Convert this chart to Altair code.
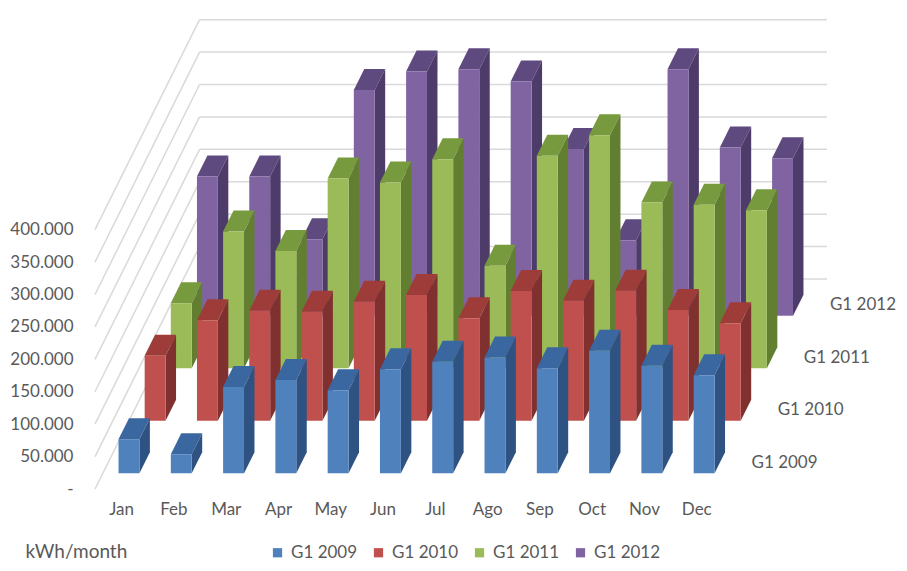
import altair as alt
import pandas as pd

# ---------------- data ----------------
months = ["Jan", "Feb", "Mar", "Apr", "May", "Jun", "Jul", "Ago", "Sep", "Oct", "Nov", "Dec"]
series = ["G1 2009", "G1 2010", "G1 2011", "G1 2012"]
g1_2009 = [52500, 29300, 133000, 144000, 128000, 160500, 172000, 178500, 162000, 189000, 166000, 151000]
g1_2010 = [100300, 155000, 169700, 168000, 183600, 194000, 158000, 200000, 185000, 200500, 171000, 150500]
g1_2011 = [100300, 211000, 181000, 292700, 286500, 322500, 158000, 327600, 359500, 255700, 252000, 243800]
g1_2012 = [214800, 214800, 118000, 348000, 376800, 380300, 361400, 257000, 116500, 380300, 259500, 243000]
y_ticks = [0, 50000, 100000, 150000, 200000, 250000, 300000, 350000, 400000]
values = [g1_2009, g1_2010, g1_2011, g1_2012]

# ---------------- style / geometry constants ----------------
front_colors = ["#4F81BD", "#C0504D", "#9BBB59", "#8064A2"]
top_colors = ["#3B67A0", "#9E3C39", "#789A3E", "#5F4A80"]
side_colors = ["#2E5282", "#80302E", "#627E31", "#4D3C69"]
TEXT = "#595959"
GRID = "#D9D9D9"
FONT = "Lato"

ROW_DX = 0.5      # oblique depth shift per series row, in month slots
ROW_DY = 81000    # oblique depth shift per series row, in kWh units
BAR_W = 0.4
D0, D1 = 0.3, 0.7
N = len(months)
NR = len(series)
X_MAX = N + NR * ROW_DX
Y_MAX = 725000

# ---------------- derived tables ----------------
front_rows, top_rows, side_rows = [], [], []
for r, (s, vals) in enumerate(zip(series, values)):
    for i, (m, v) in enumerate(zip(months, vals)):
        x0 = i + (1 - BAR_W) / 2 + (r + D0) * ROW_DX
        x1 = x0 + BAR_W
        y0 = (r + D0) * ROW_DY
        y1 = y0 + v
        ddx = (D1 - D0) * ROW_DX
        ddy = (D1 - D0) * ROW_DY
        front_rows.append(dict(series=s, month=m, value=v, x0=x0, x1=x1, y0=y0, y1=y1))
        top_rows.append(dict(series=s, month=m, ty=y1, tx0=x0, tx1=x1))
        top_rows.append(dict(series=s, month=m, ty=y1 + ddy, tx0=x0 + ddx, tx1=x1 + ddx))
        side_rows.append(dict(series=s, month=m, sx=x1, sy0=y0, sy1=y1))
        side_rows.append(dict(series=s, month=m, sx=x1 + ddx, sy0=y0 + ddy, sy1=y1 + ddy))
front_df = pd.DataFrame(front_rows)
top_df = pd.DataFrame(top_rows)
side_df = pd.DataFrame(side_rows)

grid_rows = []
for v in y_ticks:
    grid_rows.append(dict(gx0=0, gx1=NR * ROW_DX, gy0=v, gy1=v + NR * ROW_DY))
    grid_rows.append(dict(gx0=NR * ROW_DX, gx1=X_MAX, gy0=v + NR * ROW_DY, gy1=v + NR * ROW_DY))
grid_df = pd.DataFrame(grid_rows)

label_df = pd.DataFrame(dict(
    series=series,
    lx=[N + ROW_DX * (r + 0.5) for r in range(NR)],
    ly=[ROW_DY * (r + 0.5) for r in range(NR)],
))

# ---------------- scales / axes ----------------
xscale = alt.Scale(domain=[0, X_MAX], nice=False, zero=False)
yscale = alt.Scale(domain=[0, Y_MAX], nice=False, zero=False)

month_arr = "[" + ",".join("'%s'" % m for m in months) + "]"
x_axis = alt.Axis(
    values=[i + 0.5 for i in range(N)],
    labelExpr=month_arr + "[floor(datum.value)]",
    title=None, ticks=False, domain=False, grid=False,
    labelPadding=12, labelFontSize=17, labelColor=TEXT, labelFont=FONT,
    labelBaseline="top",
)
y_axis = alt.Axis(
    values=y_ticks,
    labelExpr="datum.value == 0 ? '-\u00a0\u00a0\u00a0' : replace(format(datum.value, ',.0f'), ',', '.')",
    title="kWh/month", titleAngle=0, titleX=-70, titleY=532, titleAlign="left",
    titleBaseline="middle", titleFontSize=19, titleFontWeight="normal", titleColor=TEXT, titleFont=FONT,
    ticks=False, domain=False, grid=False,
    labelPadding=22, labelFontSize=17, labelColor=TEXT, labelFont=FONT,
)

def X(field):
    return alt.X(field, type="quantitative", scale=xscale, axis=x_axis)

def Y(field):
    return alt.Y(field, type="quantitative", scale=yscale, axis=y_axis, stack=None)

color_scale = alt.Scale(domain=series, range=front_colors)
legend = alt.Legend(
    orient="none", legendX=174, legendY=525, direction="horizontal", title=None,
    symbolType="square", symbolSize=85, symbolStrokeWidth=0,
    labelFontSize=17, labelColor=TEXT, labelFont=FONT, labelOffset=5,
    columnPadding=12,
)

layers = []
grid = alt.Chart(grid_df).mark_rule(color=GRID, strokeWidth=1.5).encode(
    x=X("gx0"), x2="gx1", y=Y("gy0"), y2="gy1"
)
layers.append(grid)

for r in reversed(range(NR)):
    s = series[r]
    tdf = top_df[top_df.series == s]
    sdf = side_df[side_df.series == s]
    fdf = front_df[front_df.series == s]
    top = alt.Chart(tdf).mark_area(orient="horizontal", color=top_colors[r]).encode(
        y=Y("ty"), x=alt.X("tx0", type="quantitative", scale=xscale, axis=x_axis, stack=None),
        x2="tx1", detail="month:N"
    )
    side = alt.Chart(sdf).mark_area(orient="vertical", color=side_colors[r]).encode(
        x=X("sx"), y=Y("sy0"), y2="sy1", detail="month:N"
    )
    front = alt.Chart(fdf).mark_rect().encode(
        x=X("x0"), x2="x1", y=Y("y0"), y2="y1",
        color=alt.Color("series:N", scale=color_scale, legend=legend),
    )
    layers += [top, side, front]

labels = alt.Chart(label_df).mark_text(
    align="left", baseline="middle", dx=16, fontSize=17, color=TEXT, font=FONT
).encode(x=X("lx"), y=Y("ly"), text="series:N")
layers.append(labels)

chart = alt.layer(*layers).properties(
    width=732, height=470,
    padding={"left": 87, "top": 11, "right": 72, "bottom": 74},
    autosize=alt.AutoSizeParams(type="none"),
).configure(font=FONT, view=alt.ViewConfig(stroke=None))

chart.save("out.html", embed_options={"renderer": "svg", "actions": False})
